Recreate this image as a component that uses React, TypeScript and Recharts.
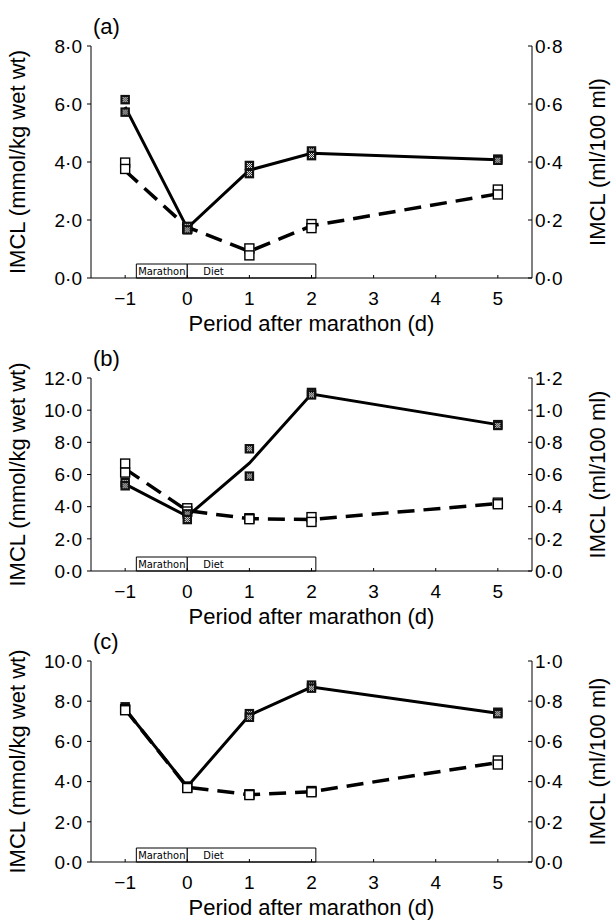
import React from "react";
import { ScatterChart, Scatter, XAxis, YAxis, ReferenceArea, Label } from "recharts";

// days on which IMCL was measured
const days = [-1, 0, 1, 2, 5];
const xTicks = [-1, 0, 1, 2, 3, 4, 5];

// (a) solid = mmol/kg wet wt (left), dashed = ml/100 ml (right)
const meanSolidA = [5.9, 1.72, 3.72, 4.3, 4.08];
const meanDashA = [0.37, 0.175, 0.092, 0.18, 0.29];
const ptsSolidA = [[6.15, 5.72], [1.78, 1.66], [3.88, 3.6], [4.38, 4.22], [4.1, 4.06]];
const ptsOpenA = [[0.398, 0.376], [0.175, 0.17], [0.102, 0.078], [0.186, 0.172], [0.305, 0.288]];

// (b)
const meanSolidB = [5.4, 3.4, 6.7, 11.0, 9.1];
const meanDashB = [0.635, 0.375, 0.325, 0.32, 0.42];
const ptsSolidB = [[5.5, 5.3], [3.55, 3.2], [7.6, 5.9], [11.1, 10.95], [9.1, 9.05]];
const ptsOpenB = [[0.668, 0.612], [0.39, 0.37], [0.328, 0.322], [0.335, 0.305], [0.425, 0.415]];

// (c)
const meanSolidC = [7.6, 3.75, 7.3, 8.7, 7.4];
const meanDashC = [0.76, 0.372, 0.335, 0.35, 0.495];
const ptsSolidC = [[7.72, 7.6], [3.78, 3.72], [7.38, 7.2], [8.8, 8.65], [7.45, 7.38]];
const ptsOpenC = [[0.76, 0.755], [0.372, 0.368], [0.337, 0.333], [0.353, 0.347], [0.505, 0.485]];

const leftTicksA = [0, 2, 4, 6, 8];
const rightTicksA = [0, 0.2, 0.4, 0.6, 0.8];
const leftTicksB = [0, 2, 4, 6, 8, 10, 12];
const rightTicksB = [0, 0.2, 0.4, 0.6, 0.8, 1.0, 1.2];
const leftTicksC = [0, 2, 4, 6, 8, 10];
const rightTicksC = [0, 0.2, 0.4, 0.6, 0.8, 1.0];

// marathon / diet bar under the curves
const marathonStart = -0.82;
const dietEnd = 2.07;

const toLine = (vals: number[]) => days.map((d, i) => ({ x: d, y: vals[i] }));
const toPts = (pairs: number[][]) =>
  pairs.flatMap((p, i) => p.map((v) => ({ x: days[i], y: v })));

const fmtY = (v: number) => v.toFixed(1).replace(".", "\u00b7");
const fmtX = (v: number) => (v < 0 ? "\u2212" + Math.abs(v) : String(v));

const OpenSq = (p: any) => (
  <rect x={p.cx - 4.5} y={p.cy - 4.5} width={9} height={9} fill="#fff" stroke="#000" strokeWidth={1.4} />
);

const HatchSq = (p: any) => {
  const dots = [
    [-2, -2], [0, -2], [2, -2],
    [-1, -1], [1, -1],
    [-2, 0], [0, 0], [2, 0],
    [-1, 1], [1, 1],
    [-2, 2], [0, 2], [2, 2],
  ];
  return (
    <g>
      <rect x={p.cx - 4.75} y={p.cy - 4.75} width={9.5} height={9.5} fill="#111" />
      {dots.map(([dx, dy], i) => (
        <rect key={i} x={p.cx + dx - 0.5} y={p.cy + dy - 0.5} width={1} height={1} fill="#fff" />
      ))}
    </g>
  );
};

const NoShape = () => <g />;

const W = 611;
const LEFT_W = 91;
const RIGHT_W = 79;
const X_H = 62;
const boxFont = "'Liberation Sans Narrow', 'DejaVu Sans Condensed', sans-serif";

interface PanelProps {
  letter: string;
  chartTop: number;
  top: number;
  bottom: number;
  leftMax: number;
  rightMax: number;
  leftTicks: number[];
  rightTicks: number[];
  meanSolid: number[];
  meanDash: number[];
  ptsSolid: number[][];
  ptsOpen: number[][];
  openOnTop?: boolean;
}

function Panel(p: PanelProps) {
  const plotH = p.bottom - p.top;
  const mTop = p.top - p.chartTop;
  const chartH = p.bottom + X_H - p.chartTop;
  const cy = mTop + plotH / 2;
  const boxTop = (14 / plotH) * p.leftMax;
  const cx = (LEFT_W + W - RIGHT_W) / 2;
  const titleY = mTop + plotH + 45;

  const solidLine = toLine(p.meanSolid);
  const dashLine = toLine(p.meanDash);
  const solidPts = toPts(p.ptsSolid);
  const openPts = toPts(p.ptsOpen);

  const xTitle = () => (
    <text x={cx} y={titleY} textAnchor="middle" dominantBaseline="central" fontSize={22} fill="#000">
      Period after marathon (d)
    </text>
  );
  const leftTitle = () => (
    <text x={17} y={cy} transform={`rotate(-90, 17, ${cy})`} textAnchor="middle" dominantBaseline="central" fontSize={22} fill="#000">
      IMCL (mmol/kg wet wt)
    </text>
  );
  const rightTitle = () => (
    <text x={597} y={cy} transform={`rotate(-90, 597, ${cy})`} textAnchor="middle" dominantBaseline="central" fontSize={22} fill="#000">
      IMCL (ml/100 ml)
    </text>
  );

  const openScatter = (
    <Scatter key="open" yAxisId="right" data={openPts} shape={OpenSq} isAnimationActive={false} />
  );
  const solidScatter = (
    <Scatter key="solid" yAxisId="left" data={solidPts} shape={HatchSq} isAnimationActive={false} />
  );

  return (
    <>
      <div style={{ position: "absolute", left: 93, top: p.top - 32, fontSize: 22, lineHeight: "26px" }}>
        {p.letter}
      </div>
      <div style={{ position: "absolute", left: 0, top: p.chartTop }}>
        <ScatterChart width={W} height={chartH} margin={{ top: mTop, right: 0, bottom: 0, left: 0 }}>
          <XAxis
            type="number"
            dataKey="x"
            domain={[-1.55, 5.55]}
            ticks={xTicks}
            tickFormatter={fmtX}
            allowDataOverflow
            height={X_H}
            stroke="#000"
            tickSize={-3}
            tickMargin={17}
            tick={{ fontSize: 19, fill: "#000" }}
          >
            <Label content={xTitle} />
          </XAxis>
          <YAxis
            yAxisId="left"
            type="number"
            dataKey="y"
            domain={[0, p.leftMax]}
            ticks={p.leftTicks}
            tickFormatter={fmtY}
            width={LEFT_W}
            stroke="#000"
            tickSize={4}
            tickMargin={5}
            tick={{ fontSize: 19, fill: "#000" }}
          >
            <Label content={leftTitle} />
          </YAxis>
          <YAxis
            yAxisId="right"
            orientation="right"
            type="number"
            dataKey="y"
            domain={[0, p.rightMax]}
            ticks={p.rightTicks}
            tickFormatter={fmtY}
            width={RIGHT_W}
            stroke="#000"
            tickSize={-4}
            tickMargin={7}
            tick={{ fontSize: 19, fill: "#000" }}
          >
            <Label content={rightTitle} />
          </YAxis>
          <ReferenceArea
            yAxisId="left"
            x1={marathonStart}
            x2={0}
            y1={0}
            y2={boxTop}
            fill="#fff"
            fillOpacity={1}
            stroke="#000"
            strokeWidth={1}
          >
            <Label value="Marathon" position="center" fontSize={11} fill="#000" fontFamily={boxFont} />
          </ReferenceArea>
          <ReferenceArea
            yAxisId="left"
            x1={0}
            x2={dietEnd}
            y1={0}
            y2={boxTop}
            fill="#fff"
            fillOpacity={1}
            stroke="#000"
            strokeWidth={1}
          >
            <Label value="Diet" position="insideLeft" offset={16} fontSize={11} fill="#000" fontFamily={boxFont} />
          </ReferenceArea>
          <Scatter
            yAxisId="right"
            data={dashLine}
            line={{ stroke: "#000", strokeWidth: 3.5, strokeDasharray: "17 9" }}
            shape={NoShape}
            isAnimationActive={false}
          />
          <Scatter
            yAxisId="left"
            data={solidLine}
            line={{ stroke: "#000", strokeWidth: 3 }}
            shape={NoShape}
            isAnimationActive={false}
          />
          {p.openOnTop ? [solidScatter, openScatter] : [openScatter, solidScatter]}
        </ScatterChart>
      </div>
    </>
  );
}

export default function App() {
  return (
    <div
      style={{
        position: "absolute",
        left: 0,
        top: 0,
        width: W,
        height: 923,
        background: "#fff",
        fontFamily: "'Liberation Sans', Arial, sans-serif",
        color: "#000",
      }}
    >
      <Panel
        letter="(a)"
        chartTop={0}
        top={46}
        bottom={278}
        leftMax={8}
        rightMax={0.8}
        leftTicks={leftTicksA}
        rightTicks={rightTicksA}
        meanSolid={meanSolidA}
        meanDash={meanDashA}
        ptsSolid={ptsSolidA}
        ptsOpen={ptsOpenA}
      />
      <Panel
        letter="(b)"
        chartTop={336}
        top={378}
        bottom={571}
        leftMax={12}
        rightMax={1.2}
        leftTicks={leftTicksB}
        rightTicks={rightTicksB}
        meanSolid={meanSolidB}
        meanDash={meanDashB}
        ptsSolid={ptsSolidB}
        ptsOpen={ptsOpenB}
      />
      <Panel
        letter="(c)"
        chartTop={630}
        top={661}
        bottom={862}
        leftMax={10}
        rightMax={1.0}
        leftTicks={leftTicksC}
        rightTicks={rightTicksC}
        meanSolid={meanSolidC}
        meanDash={meanDashC}
        ptsSolid={ptsSolidC}
        ptsOpen={ptsOpenC}
        openOnTop
      />
    </div>
  );
}
